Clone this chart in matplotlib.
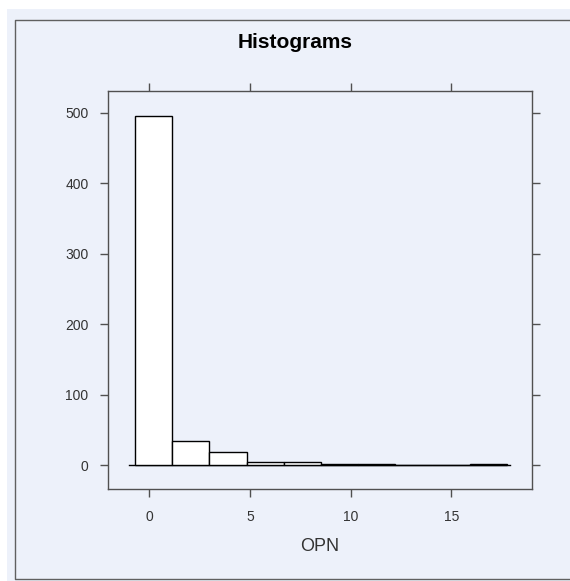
import numpy as np
import matplotlib
matplotlib.use("Agg")
from matplotlib import pyplot as plt
from matplotlib.patches import Rectangle
from matplotlib.lines import Line2D

# data
bin_start = -0.71
bin_width = 1.846
counts = [496, 34, 18, 5, 5, 1, 1, 0, 0, 1]
x_ticks = [0, 5, 10, 15]
y_ticks = [0, 100, 200, 300, 400, 500]

BG = "#EDF1FA"
LINE = "#505050"

plt.rcParams["font.family"] = ["Liberation Sans", "DejaVu Sans"]

fig = plt.figure(figsize=(5.70, 5.81), dpi=100)
fig.patch.set_facecolor("white")

# panel background and outer frame (no right edge in the original)
W, H = 570.0, 581.0
fig.patches.append(Rectangle((7 / W, 0), 1, (H - 9) / H, transform=fig.transFigure,
                             facecolor=BG, edgecolor="none", zorder=-2))
x0, ytop, ybot = 14.5 / W, 1 - 19.5 / H, 1 - 578.5 / H
fig.lines.append(Line2D([1.0, x0, x0, 1.0], [ytop, ytop, ybot, ybot],
                        transform=fig.transFigure, color="#606060", lw=1.0))

ax = fig.add_axes([108 / W, (H - 489) / H, (532 - 108) / W, (489 - 91) / H])
ax.set_facecolor(BG)

edges = bin_start + bin_width * np.arange(len(counts) + 1)
ax.bar(edges[:-1], counts, width=bin_width, align="edge",
       facecolor="white", edgecolor="black", lw=1.0, zorder=3)
ax.plot([-1.0, 17.9], [0, 0], color="black", lw=1.0, zorder=2)

ax.set_xlim(-2.05, 19.0)
ax.set_ylim(-34, 531)
ax.set_xticks(x_ticks)
ax.set_yticks(y_ticks)

for s in ax.spines.values():
    s.set_color(LINE)
    s.set_linewidth(1.0)

ax.tick_params(direction="out", length=6, width=1.0, color=LINE,
               top=True, right=True, labeltop=False, labelright=False,
               labelsize=10, labelcolor="#333333")
ax.tick_params(axis="x", pad=9)
ax.tick_params(axis="y", pad=8)

ax.set_xlabel("OPN", fontsize=13, color="#333333", labelpad=10)
fig.text(295 / W, 1 - 42 / H, "Histograms", ha="center", va="center",
         fontsize=15, fontweight="bold")

fig.savefig("out.png", dpi=100)
